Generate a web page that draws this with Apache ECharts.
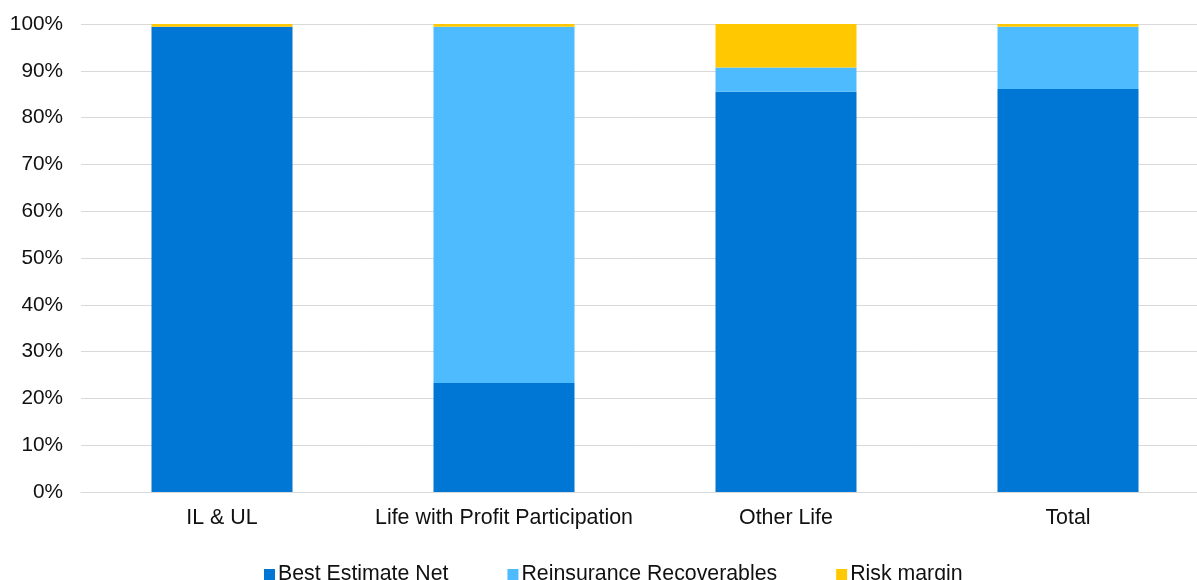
<!DOCTYPE html>
<html>
<head>
<meta charset="utf-8">
<script src="https://cdn.jsdelivr.net/npm/echarts@6/dist/echarts.min.js"></script>
<style>
  html, body { margin: 0; padding: 0; background: #fff; }
  #chart { width: 1197px; height: 580px; }
</style>
</head>
<body>
<div id="chart"></div>
<script>
// categories and shares (percent of total)
const categories = ['IL & UL', 'Life with Profit Participation', 'Other Life', 'Total'];
const bestEstimateNet = [99.4, 23.3, 85.5, 86.1];
const reinsuranceRecoverables = [0, 76.1, 5.2, 13.3];
const riskMargin = [0.6, 0.6, 9.3, 0.6];
const yTicks = [0, 10, 20, 30, 40, 50, 60, 70, 80, 90, 100];

const font = 'Liberation Sans, Arial, sans-serif';
const colors = ['#0077d4', '#4fbbff', '#ffc800'];

const chart = echarts.init(document.getElementById('chart'));

function barSeries(name, data) {
    return {
        name: name,
        type: 'bar',
        stack: 'total',
        barWidth: '50%',
        data: data
    };
}

chart.setOption({
    animation: false,
    color: colors,
    grid: {
        left: 81,
        top: 24,
        width: 1128,
        height: 468,
        outerBoundsMode: 'none'
    },
    legend: {
        left: 259,
        top: 559,
        itemWidth: 11,
        itemHeight: 11,
        itemGap: 59,
        icon: 'rect',
        textStyle: { fontFamily: font, fontSize: 21.3, color: '#111', padding: [0, 0, 0, -2] }
    },
    xAxis: {
        type: 'category',
        data: categories,
        axisTick: { show: false },
        axisLine: { lineStyle: { color: '#d9d9d9', width: 1 } },
        axisLabel: { interval: 0, margin: 16, fontFamily: font, fontSize: 21.4, color: '#111' }
    },
    yAxis: {
        type: 'value',
        min: 0,
        max: 100,
        interval: 10,
        axisLine: { show: false },
        axisTick: { show: false },
        splitLine: { lineStyle: { color: '#d9d9d9', width: 1 } },
        axisLabel: {
            margin: 18,
            fontFamily: font,
            fontSize: 20.8,
            color: '#111',
            formatter: function (v) { return yTicks.indexOf(v) >= 0 ? v + '%' : ''; }
        }
    },
    series: [
        barSeries('Best Estimate Net', bestEstimateNet),
        barSeries('Reinsurance Recoverables', reinsuranceRecoverables),
        barSeries('Risk margin', riskMargin)
    ]
});
</script>
</body>
</html>
